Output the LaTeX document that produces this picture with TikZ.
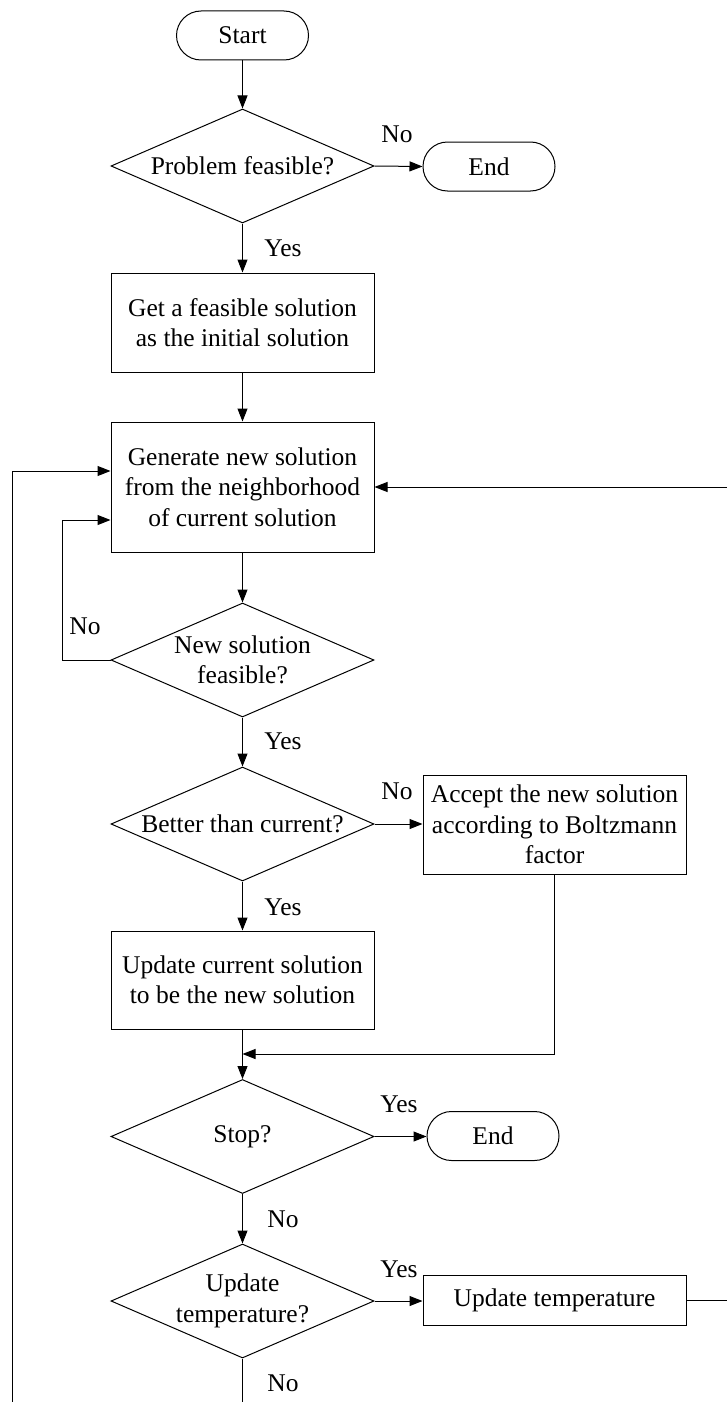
\documentclass[tikz,border=0pt]{standalone}
\usepackage{fontspec}
\setmainfont{Liberation Serif}
\usetikzlibrary{shapes.geometric,arrows.meta}
\begin{document}
\begin{tikzpicture}[x=0.5pt,y=-0.5pt,
  every node/.style={font=\fontsize{12.75}{15.25}\selectfont},
  proc/.style={draw, line width=0.5pt, rectangle, minimum width=131.5pt, inner sep=2pt, align=center},
  term/.style={draw, line width=0.5pt, rectangle, rounded corners=12.25pt, minimum width=66pt, minimum height=24.5pt, inner sep=2pt},
  decision/.style={draw, line width=0.5pt, diamond, aspect=2.307, minimum width=131.5pt, minimum height=57pt, inner sep=0pt, align=center},
  flow/.style={line width=0.5pt, -{Triangle[length=6.5pt,width=5pt]}},
  plain/.style={line width=0.5pt},
  lbl/.style={inner sep=0pt}
]
\useasboundingbox (0,0) rectangle (727,1402);

% main column
\node[term] (start) at (242.5,35.5) {Start};
\node[decision] (d1) at (242.5,166) {Problem feasible?};
\node[term] (end1) at (489,166.5) {End};
\node[proc, minimum height=49.5pt] (init) at (242.5,322.5) {Get a feasible solution\\as the initial solution};
\node[proc, minimum height=65pt] (gen) at (242.5,487) {Generate new solution\\from the neighborhood\\of current solution};
\node[decision] (d2) at (242.5,660) {New solution\\feasible?};
\node[decision] (d3) at (242.5,824) {Better than current?};
\node[proc, minimum height=49.5pt] (accept) at (554.5,824.5) {Accept the new solution\\according to Boltzmann\\factor};
\node[proc, minimum height=49pt] (upd) at (242.5,980) {Update current solution\\to be the new solution};
\node[decision] (d4) at (242.5,1136.5) {Stop?};
\node[term] (end2) at (493,1136) {End};
\node[decision] (d5) at (242.5,1301) {Update\\temperature?};
\node[proc, minimum height=25pt] (temp) at (554.5,1300) {Update temperature};

% branch labels
\node[lbl] (n1) at (397,134) {No};
\node[lbl] (y1) at (283,248) {Yes};
\node[lbl] (n2) at (85,626) {No};
\node[lbl] (y2) at (283,741) {Yes};
\node[lbl] (n3) at (397,791) {No};
\node[lbl] (y3) at (283,907) {Yes};
\node[lbl] (y4) at (399,1104) {Yes};
\node[lbl] (n4) at (283,1219) {No};
\node[lbl] (y5) at (399,1269) {Yes};
\node[lbl] (n5) at (283,1383) {No};

% straight flow
\draw[flow] (start) -- (d1);
\draw[flow] (d1.east) -- (end1.west);
\draw[flow] (d1) -- (init);
\draw[flow] (init) -- (gen);
\draw[flow] (gen) -- (d2);
\draw[flow] (d2) -- (d3);
\draw[flow] (d3.east) -- (d3.east -| accept.west);
\draw[flow] (d3) -- (upd);
\draw[flow] (upd) -- (d4);
\draw[flow] (d4.east) -- (d4.east -| end2.west);
\draw[flow] (d4) -- (d5);
\draw[flow] (d5.east) -- (d5.east -| temp.west);

% join from the Boltzmann branch
\coordinate (join) at (242.5,1054);
\draw[flow] (accept.south) |- (join);

% infeasible neighbour: back to generation
\draw[flow] (d2.west) -| (62,520) -- (gen.west |- 62,520);

% temperature updated: back to generation
\draw[flow] (temp.east) -- (728,1300) -- (728,487) -- (gen.east);

% temperature kept: outer loop back to generation
\coordinate (bl) at (12.5,1420);
\draw[flow] (d5.south) -- (d5.south |- bl) -- (bl) -- (12.5,471) -- (gen.west |- 12.5,471);
\end{tikzpicture}
\end{document}
